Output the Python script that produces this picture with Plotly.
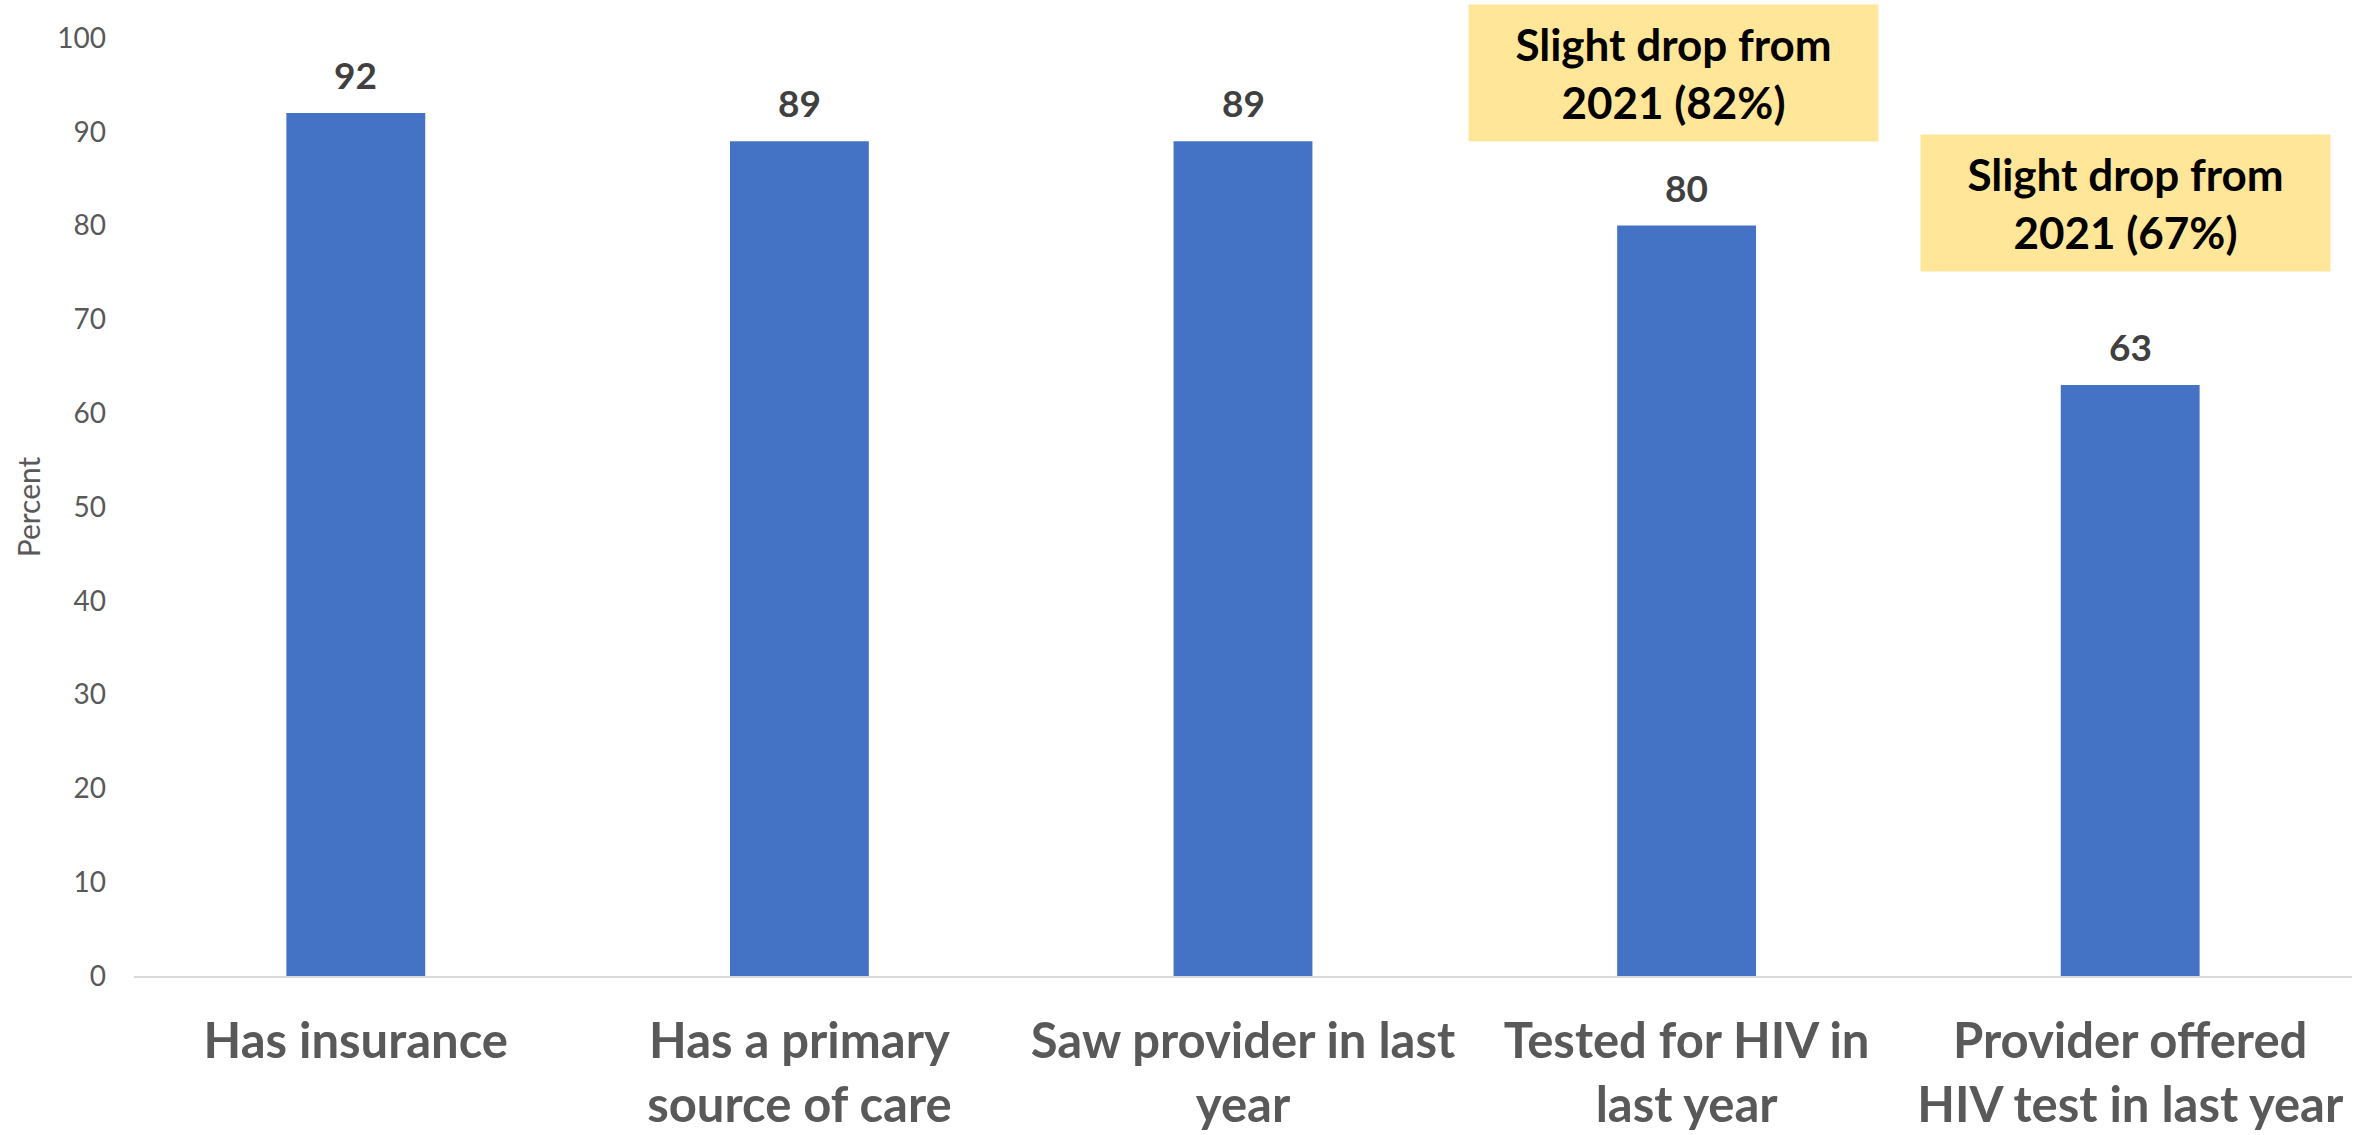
import plotly.graph_objects as go

categories = [
    "Has insurance",
    "Has a primary<br>source of care",
    "Saw provider in last<br>year",
    "Tested for HIV in<br>last year",
    "Provider offered<br>HIV test in last year",
]
values = [92, 89, 89, 80, 63]
y_ticks = list(range(0, 101, 10))
note_texts = ["Slight drop from<br>2021 (82%)", "Slight drop from<br>2021 (67%)"]
note_x = [2.97, 3.99]
note_y = [96.3, 82.4]

FONT = "Lato"
xs = list(range(len(categories)))
fig = go.Figure()
fig.add_trace(go.Bar(
    x=xs,
    y=values,
    marker=dict(color="#4472C4", line=dict(width=0)),
    width=0.313,
    hoverinfo="x+y",
))

for xi, v in zip(xs, values):
    fig.add_annotation(
        x=xi, y=v, xref="x", yref="y", text=str(v), showarrow=False,
        yanchor="bottom", yshift=14,
        font=dict(family=FONT, size=37, color="#404040", weight="bold"),
    )

for t, xx, yy in zip(note_texts, note_x, note_y):
    fig.add_annotation(
        x=xx, y=yy, xref="x", yref="y", text=t, showarrow=False,
        font=dict(family=FONT, size=44, color="#000000", weight="bold"),
        bgcolor="#FFE699", width=409, height=136, borderpad=0,
        align="center", valign="middle",
    )

fig.update_layout(
    width=2376, height=1135,
    margin=dict(l=134, r=24, t=38, b=159),
    plot_bgcolor="white", paper_bgcolor="white",
    showlegend=False,
    font=dict(family=FONT),
    xaxis=dict(
        tickmode="array",
        tickvals=xs,
        ticktext=categories,
        range=[-0.5, len(categories) - 0.5],
        tickfont=dict(family=FONT, size=49, color="#595959", weight="bold"),
        showline=True, linecolor="#D9D9D9", linewidth=2,
        showgrid=False, zeroline=False,
        ticks="", ticklabelstandoff=21, automargin=False,
    ),
    yaxis=dict(
        range=[0, 100],
        tickvals=y_ticks,
        tickfont=dict(family=FONT, size=28, color="#595959"),
        showgrid=False, zeroline=False, showline=False,
        ticks="", ticklabelstandoff=27, automargin=False,
        title=dict(text="Percent", font=dict(family=FONT, size=30, color="#595959"), standoff=7),
    ),
)

fig.write_html("out.html", config={"displayModeBar": False},
               post_script="document.body.style.margin='0';document.body.style.overflow='hidden';")
